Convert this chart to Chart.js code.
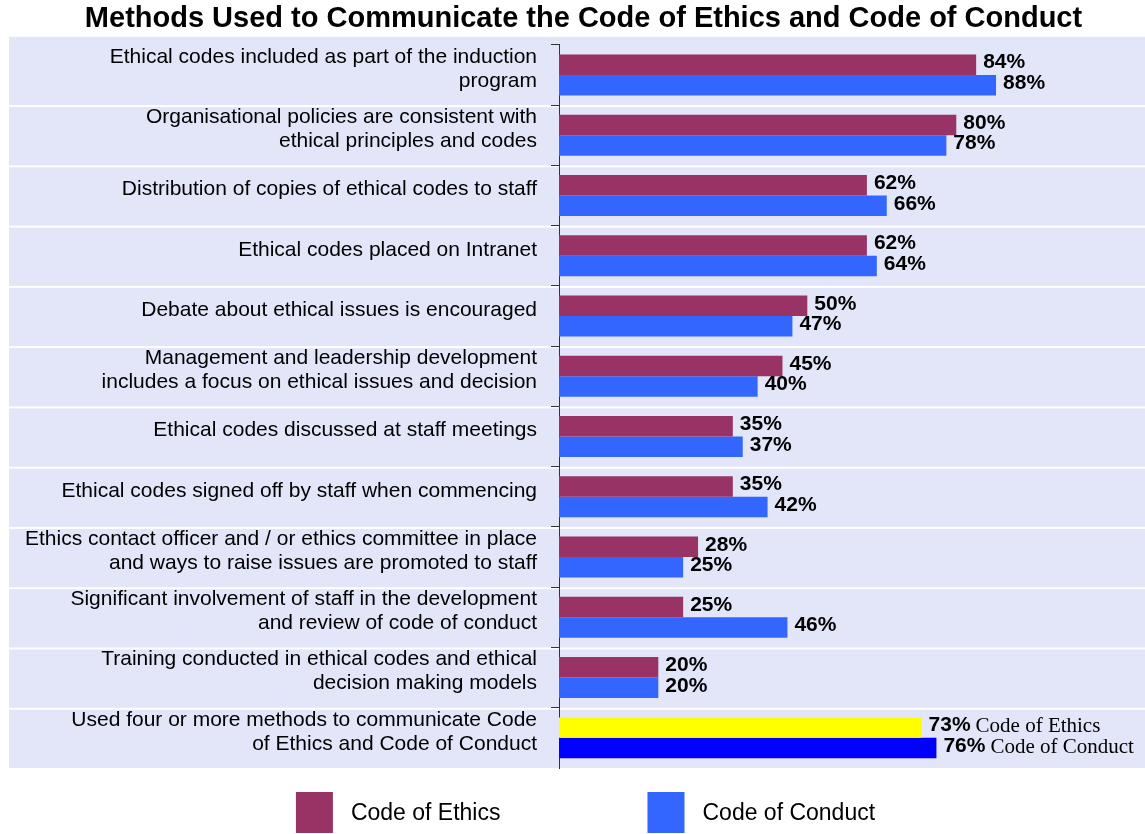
<!DOCTYPE html>
<html>
<head>
<meta charset="utf-8">
<script src="https://cdn.jsdelivr.net/npm/chart.js@4/dist/chart.umd.min.js"></script>
<style>
  html, body { margin: 0; padding: 0; background: #fff; }
  #wrap { width: 1145px; height: 834px; }
</style>
</head>
<body>
<div id="wrap"><canvas id="dataChart"></canvas></div>
<script>
const methods = [
    ["Ethical codes included as part of the induction", "program"],
    ["Organisational policies are consistent with", "ethical principles and codes"],
    "Distribution of copies of ethical codes to staff",
    "Ethical codes placed on Intranet",
    "Debate about ethical issues is encouraged",
    ["Management and leadership development", "includes a focus on ethical issues and decision"],
    "Ethical codes discussed at staff meetings",
    "Ethical codes signed off by staff when commencing",
    ["Ethics contact officer and / or ethics committee in place", "and ways to raise issues are promoted to staff"],
    ["Significant involvement of staff in the development", "and review of code of conduct"],
    ["Training conducted in ethical codes and ethical", "decision making models"],
    ["Used four or more methods to communicate Code", "of Ethics and Code of Conduct"]
];

const ethicsValues  = [84, 80, 62, 62, 50, 45, 35, 35, 28, 25, 20, 73];
const conductValues = [88, 78, 66, 64, 47, 40, 37, 42, 25, 46, 20, 76];

const seriesNames = ["Code of Ethics", "Code of Conduct"];

const sansFont = "'Liberation Sans', Arial, Helvetica, sans-serif";
const serifFont = "'Liberation Serif', 'Times New Roman', serif";

// left padding nudges the title right; the axis width makes up for it
// (kept small so the longest label is not clipped)
const padLeft = 22;

// the summary row at the bottom gets its own colours
const lastRow = methods.length - 1;
const ethicsColors  = methods.map((m, i) => i === lastRow ? "#FFFF00" : "#993366");
const conductColors = methods.map((m, i) => i === lastRow ? "#0000FF" : "#3366FF");

// lavender bands behind every row, label column included
const bandPlugin = {
    id: "bands",
    beforeDraw(chart) {
        const { ctx, chartArea } = chart;
        const step = (chartArea.bottom - chartArea.top) / methods.length;
        ctx.save();
        ctx.fillStyle = "#E3E5F9";
        for (let i = 0; i < methods.length; i++) {
            let top = chartArea.top + i * step + 2;
            if (i === 0) top = chartArea.top - 8;
            const bottom = chartArea.top + (i + 1) * step;
            ctx.fillRect(9, top, chart.width - 9, bottom - top);
        }
        ctx.restore();
    }
};

// percentage next to each bar; the summary row also names its series
const valueLabelPlugin = {
    id: "valueLabels",
    afterDatasetsDraw(chart) {
        const { ctx } = chart;
        ctx.save();
        ctx.textBaseline = "middle";
        ctx.textAlign = "left";
        chart.data.datasets.forEach((ds, d) => {
            const meta = chart.getDatasetMeta(d);
            meta.data.forEach((bar, i) => {
                const txt = ds.data[i] + "%";
                let x = bar.x + 7;
                ctx.font = "bold 21px " + sansFont;
                ctx.fillStyle = "#000";
                ctx.fillText(txt, x, bar.y - 2);
                if (i === lastRow) {
                    x += ctx.measureText(txt).width + 5;
                    ctx.font = "21px " + serifFont;
                    ctx.fillText(seriesNames[d], x, bar.y - 1);
                }
            });
        });
        ctx.restore();
    }
};

// legend row under the plot
const legendPlugin = {
    id: "bottomLegend",
    afterDraw(chart) {
        const { ctx } = chart;
        const boxW = 37, boxH = 41, gap = 18, spacing = 147;
        const top = chart.height - boxH - 1;
        ctx.save();
        ctx.font = "23px " + sansFont;
        ctx.textBaseline = "middle";
        ctx.textAlign = "left";
        const widths = seriesNames.map(n => boxW + gap + ctx.measureText(n).width);
        const total = widths[0] + spacing + widths[1];
        let x = (chart.width - total) / 2 + 13;
        chart.data.datasets.forEach((ds, d) => {
            ctx.fillStyle = ds.legendColor;
            ctx.fillRect(x, top, boxW, boxH);
            ctx.fillStyle = "#000";
            ctx.fillText(seriesNames[d], x + boxW + gap, top + boxH / 2 + 1);
            x += widths[d] + spacing;
        });
        ctx.restore();
    }
};

const data = {
    labels: methods,
    datasets: [
        {
            label: seriesNames[0],
            data: ethicsValues,
            backgroundColor: ethicsColors,
            legendColor: "#993366"
        },
        {
            label: seriesNames[1],
            data: conductValues,
            backgroundColor: conductColors,
            legendColor: "#3366FF"
        }
    ]
};

const config = {
    type: "bar",
    data: data,
    options: {
        indexAxis: "y",
        responsive: true,
        maintainAspectRatio: false,
        animation: false,
        layout: { padding: { left: padLeft, right: 0, top: 0, bottom: 66 } },
        datasets: {
            bar: { categoryPercentage: 0.68, barPercentage: 1.0 }
        },
        scales: {
            x: {
                display: false,
                min: 0,
                max: 118
            },
            y: {
                afterFit(scale) { scale.width = 559 - padLeft; },
                grid: {
                    drawOnChartArea: false,
                    drawTicks: true,
                    tickLength: 8,
                    // the closing line under the last row gets no tick
                    color: (c) => c.type === "tick" ? "#333" : "rgba(0,0,0,0)"
                },
                border: { color: "#333", width: 1 },
                ticks: {
                    padding: 14,
                    labelOffset: -6,
                    color: "#000",
                    font: { family: sansFont, size: 21, lineHeight: 1.14 }
                }
            }
        },
        plugins: {
            legend: { display: false },
            tooltip: { enabled: false },
            title: {
                display: true,
                text: "Methods Used to Communicate the Code of Ethics and Code of Conduct",
                color: "#000",
                font: { family: sansFont, size: 29, weight: "bold", lineHeight: 1.2 },
                padding: { top: 2, bottom: 8 }
            }
        }
    },
    plugins: [bandPlugin, valueLabelPlugin, legendPlugin]
};

const dataChart = new Chart(document.getElementById("dataChart"), config);
</script>
</body>
</html>
